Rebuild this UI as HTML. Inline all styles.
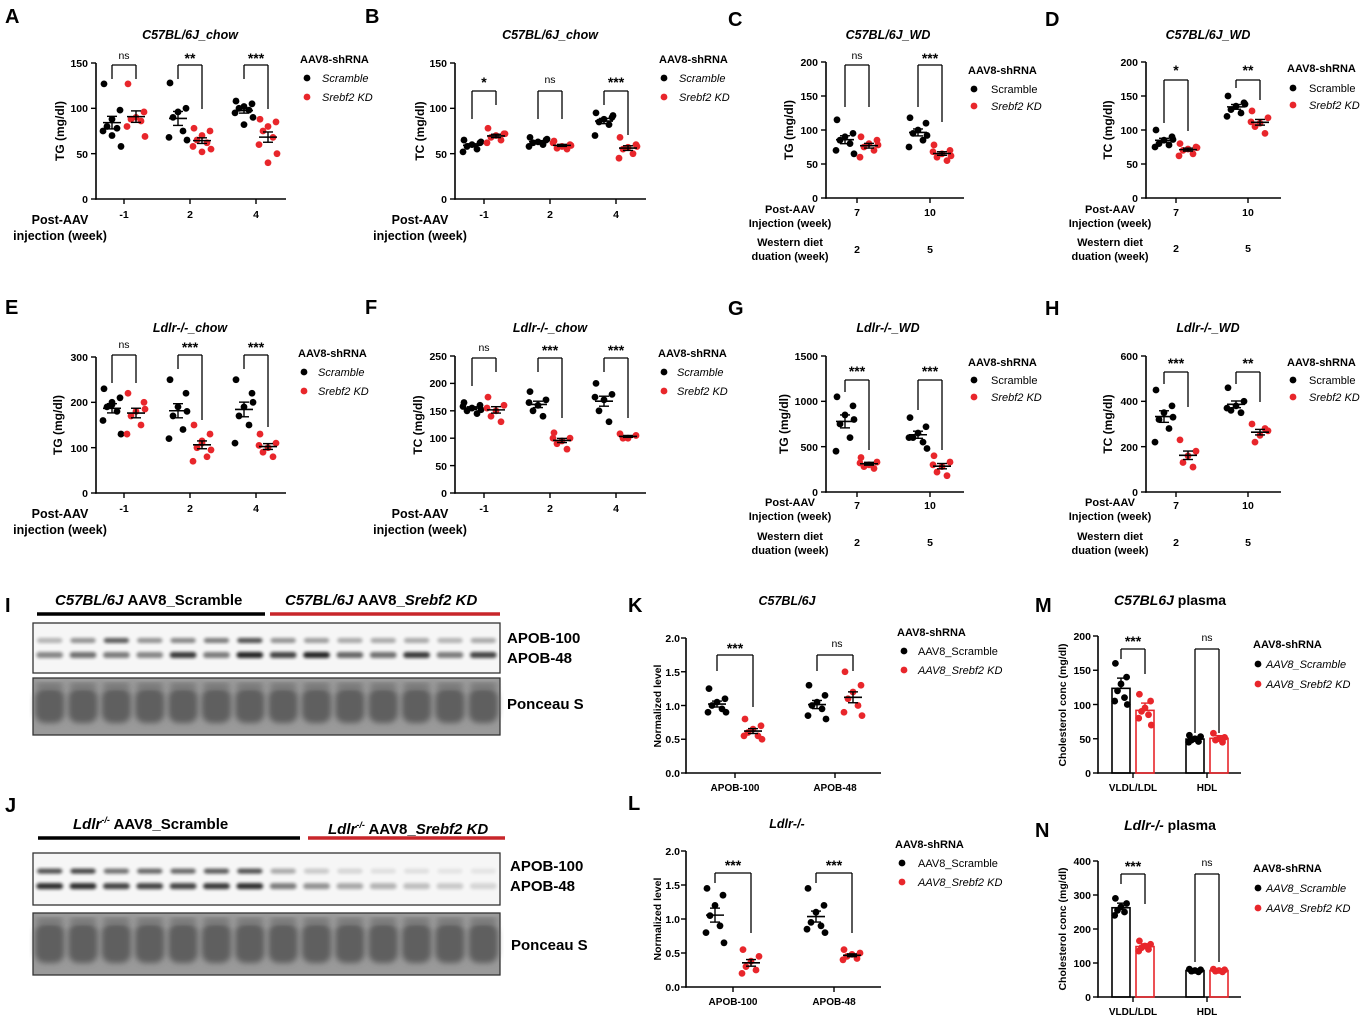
<!DOCTYPE html>
<html><head><meta charset="utf-8"><style>
body{margin:0;background:#fff}
svg{display:block;font-family:"Liberation Sans",Arial,sans-serif}
.L{font-size:20px;font-weight:bold}
.t{font-size:12.5px;font-weight:bold;font-style:italic;text-anchor:middle}
.yl{font-size:12px;font-weight:bold;text-anchor:middle}
.tk{font-size:10.5px;font-weight:bold;text-anchor:end}
.xk{font-size:10.5px;font-weight:bold;text-anchor:middle}
.lg{font-size:11px;font-weight:bold}
.li{font-size:11px;font-style:italic}
.ln{font-size:11px}
.s{font-size:14px;font-weight:bold;text-anchor:middle}
.ns{font-size:10.5px;text-anchor:middle}
.xb{font-size:12.5px;font-weight:bold;text-anchor:middle}
.xs{font-size:11px;font-weight:bold;text-anchor:middle}
.bl{font-size:15px;font-weight:bold}
</style></head><body>
<svg id="s" width="1367" height="1023" viewBox="0 0 1367 1023" xmlns="http://www.w3.org/2000/svg">
<defs>
<filter id="bl" x="-20%" y="-50%" width="140%" height="200%"><feGaussianBlur stdDeviation="1.6"/></filter>
<filter id="bl2" x="-20%" y="-20%" width="140%" height="140%"><feGaussianBlur stdDeviation="3"/></filter>
</defs>
<g id="shapes"></g>
<text class="L" x="5" y="23">A</text><text class="L" x="365" y="23">B</text><text class="L" x="728" y="26">C</text><text class="L" x="1045" y="26">D</text>
<text class="L" x="5" y="314">E</text><text class="L" x="365" y="314">F</text><text class="L" x="728" y="315">G</text><text class="L" x="1045" y="315">H</text>
<text class="L" x="5" y="612">I</text><text class="L" x="5" y="812">J</text><text class="L" x="628" y="612">K</text><text class="L" x="628" y="810">L</text>
<text class="L" x="1035" y="612">M</text><text class="L" x="1035" y="837">N</text>
<text class="t" x="190" y="39">C57BL/6J_chow</text><text class="t" x="550" y="39">C57BL/6J_chow</text>
<text class="t" x="888" y="39">C57BL/6J_WD</text><text class="t" x="1208" y="39">C57BL/6J_WD</text>
<text class="t" x="190" y="332">Ldlr-/-_chow</text><text class="t" x="550" y="332">Ldlr-/-_chow</text>
<text class="t" x="888" y="332">Ldlr-/-_WD</text><text class="t" x="1208" y="332">Ldlr-/-_WD</text>
<text class="t" x="787" y="605">C57BL/6J</text><text class="t" x="787" y="828">Ldlr-/-</text>
<text class="t" x="1170" y="605" style="font-size:14px">C57BL6J <tspan style="font-style:normal">plasma</tspan></text>
<text class="t" x="1170" y="830" style="font-size:14px">Ldlr-/- <tspan style="font-style:normal">plasma</tspan></text>
<text class="yl" transform="translate(64,131) rotate(-90)">TG (mg/dl)</text>
<text class="yl" transform="translate(424,131) rotate(-90)">TC (mg/dl)</text>
<text class="yl" transform="translate(793,130) rotate(-90)">TG (mg/dl)</text>
<text class="yl" transform="translate(1112,130) rotate(-90)">TC (mg/dl)</text>
<text class="yl" transform="translate(62,425) rotate(-90)">TG (mg/dl)</text>
<text class="yl" transform="translate(422,425) rotate(-90)">TC (mg/dl)</text>
<text class="yl" transform="translate(788,424) rotate(-90)">TG (mg/dl)</text>
<text class="yl" transform="translate(1112,424) rotate(-90)">TC (mg/dl)</text>
<text class="yl" style="font-size:10.5px" transform="translate(661,706) rotate(-90)">Normalized level</text>
<text class="yl" style="font-size:10.5px" transform="translate(661,919) rotate(-90)">Normalized level</text>
<text class="yl" style="font-size:10.5px" transform="translate(1066,705) rotate(-90)">Cholesterol conc (mg/dl)</text>
<text class="yl" style="font-size:10.5px" transform="translate(1066,929) rotate(-90)">Cholesterol conc (mg/dl)</text>
<g class="tk">
<text x="88" y="67">150</text><text x="88" y="112">100</text><text x="88" y="158">50</text><text x="88" y="203">0</text>
<text x="447" y="67">150</text><text x="447" y="112">100</text><text x="447" y="158">50</text><text x="447" y="203">0</text>
<text x="818" y="66">200</text><text x="818" y="100">150</text><text x="818" y="134">100</text><text x="818" y="168">50</text><text x="818" y="202">0</text>
<text x="1138" y="66">200</text><text x="1138" y="100">150</text><text x="1138" y="134">100</text><text x="1138" y="168">50</text><text x="1138" y="202">0</text>
<text x="88" y="361">300</text><text x="88" y="406">200</text><text x="88" y="452">100</text><text x="88" y="497">0</text>
<text x="447" y="360">250</text><text x="447" y="387">200</text><text x="447" y="415">150</text><text x="447" y="442">100</text><text x="447" y="470">50</text><text x="447" y="497">0</text>
<text x="818" y="360">1500</text><text x="818" y="405">1000</text><text x="818" y="451">500</text><text x="818" y="496">0</text>
<text x="1138" y="360">600</text><text x="1138" y="405">400</text><text x="1138" y="451">200</text><text x="1138" y="496">0</text>
<text x="680" y="642">2.0</text><text x="680" y="676">1.5</text><text x="680" y="710">1.0</text><text x="680" y="743">0.5</text><text x="680" y="777">0.0</text>
<text x="680" y="855">2.0</text><text x="680" y="889">1.5</text><text x="680" y="923">1.0</text><text x="680" y="957">0.5</text><text x="680" y="991">0.0</text>
<text x="1091" y="640">200</text><text x="1091" y="674">150</text><text x="1091" y="709">100</text><text x="1091" y="743">50</text><text x="1091" y="777">0</text>
<text x="1091" y="865">400</text><text x="1091" y="899">300</text><text x="1091" y="933">200</text><text x="1091" y="967">100</text><text x="1091" y="1001">0</text>
</g>
<g class="xk">
<text x="124" y="218">-1</text><text x="190" y="218">2</text><text x="256" y="218">4</text>
<text x="484" y="218">-1</text><text x="550" y="218">2</text><text x="616" y="218">4</text>
<text x="857" y="216">7</text><text x="930" y="216">10</text><text x="857" y="253">2</text><text x="930" y="253">5</text>
<text x="1176" y="216">7</text><text x="1248" y="216">10</text><text x="1176" y="252">2</text><text x="1248" y="252">5</text>
<text x="124" y="512">-1</text><text x="190" y="512">2</text><text x="256" y="512">4</text>
<text x="484" y="512">-1</text><text x="550" y="512">2</text><text x="616" y="512">4</text>
<text x="857" y="509">7</text><text x="930" y="509">10</text><text x="857" y="546">2</text><text x="930" y="546">5</text>
<text x="1176" y="509">7</text><text x="1248" y="509">10</text><text x="1176" y="546">2</text><text x="1248" y="546">5</text>
<text x="735" y="791" style="font-size:10px">APOB-100</text><text x="835" y="791" style="font-size:10px">APOB-48</text>
<text x="733" y="1005" style="font-size:10px">APOB-100</text><text x="834" y="1005" style="font-size:10px">APOB-48</text>
<text x="1133" y="791" style="font-size:10px">VLDL/LDL</text><text x="1207" y="791" style="font-size:10px">HDL</text>
<text x="1133" y="1015" style="font-size:10px">VLDL/LDL</text><text x="1207" y="1015" style="font-size:10px">HDL</text>
</g>
<g class="xb">
<text x="60" y="224">Post-AAV</text><text x="60" y="240">injection (week)</text>
<text x="420" y="224">Post-AAV</text><text x="420" y="240">injection (week)</text>
<text x="60" y="518">Post-AAV</text><text x="60" y="534">injection (week)</text>
<text x="420" y="518">Post-AAV</text><text x="420" y="534">injection (week)</text>
</g>
<g class="xs">
<text x="790" y="213">Post-AAV</text><text x="790" y="227">Injection (week)</text><text x="790" y="246">Western diet</text><text x="790" y="260">duation (week)</text>
<text x="1110" y="213">Post-AAV</text><text x="1110" y="227">Injection (week)</text><text x="1110" y="246">Western diet</text><text x="1110" y="260">duation (week)</text>
<text x="790" y="506">Post-AAV</text><text x="790" y="520">Injection (week)</text><text x="790" y="540">Western diet</text><text x="790" y="554">duation (week)</text>
<text x="1110" y="506">Post-AAV</text><text x="1110" y="520">Injection (week)</text><text x="1110" y="540">Western diet</text><text x="1110" y="554">duation (week)</text>
</g>
<g>
<text class="lg" x="300" y="63">AAV8-shRNA</text><text class="li" x="322" y="82">Scramble</text><text class="li" x="322" y="101">Srebf2 KD</text>
<text class="lg" x="659" y="63">AAV8-shRNA</text><text class="li" x="679" y="82">Scramble</text><text class="li" x="679" y="101">Srebf2 KD</text>
<text class="lg" x="968" y="74">AAV8-shRNA</text><text class="ln" x="991" y="93">Scramble</text><text class="li" x="991" y="110">Srebf2 KD</text>
<text class="lg" x="1287" y="72">AAV8-shRNA</text><text class="ln" x="1309" y="92">Scramble</text><text class="li" x="1309" y="109">Srebf2 KD</text>
<text class="lg" x="298" y="357">AAV8-shRNA</text><text class="li" x="318" y="376">Scramble</text><text class="li" x="318" y="395">Srebf2 KD</text>
<text class="lg" x="658" y="357">AAV8-shRNA</text><text class="li" x="677" y="376">Scramble</text><text class="li" x="677" y="395">Srebf2 KD</text>
<text class="lg" x="968" y="366">AAV8-shRNA</text><text class="ln" x="991" y="384">Scramble</text><text class="li" x="991" y="401">Srebf2 KD</text>
<text class="lg" x="1287" y="366">AAV8-shRNA</text><text class="ln" x="1309" y="384">Scramble</text><text class="li" x="1309" y="401">Srebf2 KD</text>
<text class="lg" x="897" y="636">AAV8-shRNA</text><text class="ln" x="918" y="655">AAV8_Scramble</text><text class="li" x="918" y="674">AAV8_Srebf2 KD</text>
<text class="lg" x="895" y="848">AAV8-shRNA</text><text class="ln" x="918" y="867">AAV8_Scramble</text><text class="li" x="918" y="886">AAV8_Srebf2 KD</text>
<text class="lg" x="1253" y="648">AAV8-shRNA</text><text class="li" x="1266" y="668">AAV8_Scramble</text><text class="li" x="1266" y="688">AAV8_Srebf2 KD</text>
<text class="lg" x="1253" y="872">AAV8-shRNA</text><text class="li" x="1266" y="892">AAV8_Scramble</text><text class="li" x="1266" y="912">AAV8_Srebf2 KD</text>
</g>
<g>
<text class="ns" x="124" y="59">ns</text><text class="s" x="190" y="63">**</text><text class="s" x="256" y="63">***</text>
<text class="s" x="484" y="87">*</text><text class="ns" x="550" y="83">ns</text><text class="s" x="616" y="87">***</text>
<text class="ns" x="857" y="59">ns</text><text class="s" x="930" y="63">***</text>
<text class="s" x="1176" y="75">*</text><text class="s" x="1248" y="75">**</text>
<text class="ns" x="124" y="348">ns</text><text class="s" x="190" y="352">***</text><text class="s" x="256" y="352">***</text>
<text class="ns" x="484" y="351">ns</text><text class="s" x="550" y="355">***</text><text class="s" x="616" y="355">***</text>
<text class="s" x="857" y="376">***</text><text class="s" x="930" y="376">***</text>
<text class="s" x="1176" y="368">***</text><text class="s" x="1248" y="368">**</text>
<text class="s" x="735" y="653">***</text><text class="ns" x="837" y="647">ns</text>
<text class="s" x="733" y="870">***</text><text class="s" x="834" y="870">***</text>
<text class="s" x="1133" y="646">***</text><text class="ns" x="1207" y="641">ns</text>
<text class="s" x="1133" y="871">***</text><text class="ns" x="1207" y="866">ns</text>
</g>
<text class="bl" x="55" y="605" style="font-style:italic">C57BL/6J <tspan style="font-style:normal">AAV8_Scramble</tspan></text>
<text class="bl" x="285" y="605" style="font-style:italic">C57BL/6J <tspan style="font-style:normal">AAV8_</tspan>Srebf2 KD</text>
<text class="bl" x="507" y="643">APOB-100</text><text class="bl" x="507" y="663">APOB-48</text><text class="bl" x="507" y="709">Ponceau S</text>
<text class="bl" x="73" y="829" style="font-style:italic">Ldlr<tspan style="font-size:9px" dy="-6">-/-</tspan><tspan dy="6" style="font-style:normal"> AAV8_Scramble</tspan></text>
<text class="bl" x="328" y="834" style="font-style:italic">Ldlr<tspan style="font-size:9px" dy="-6">-/-</tspan><tspan dy="6" style="font-style:normal"> AAV8_</tspan>Srebf2 KD</text>
<text class="bl" x="510" y="871">APOB-100</text><text class="bl" x="510" y="891">APOB-48</text><text class="bl" x="511" y="950">Ponceau S</text>
</svg>
<script>
const NS="http://www.w3.org/2000/svg",G=document.getElementById("shapes");
function el(t,a){const e=document.createElementNS(NS,t);for(const k in a)e.setAttribute(k,a[k]);G.appendChild(e);return e;}
function line(x1,y1,x2,y2,c,w){el("line",{x1,y1,x2,y2,stroke:c||"#000","stroke-width":w||1.5});}
function dot(x,y,c){el("circle",{cx:x,cy:y,r:3.4,fill:c});}
function axes(P){const {ax,yT,yB,xR,n}=P;line(ax,yT,ax,yB+0.7,"#000",1.6);line(ax-0.7,yB,xR,yB,"#000",1.6);
 for(let i=0;i<=n;i++){const y=yT+(yB-yT)*i/n;line(ax-5,y,ax,y,"#000",1.4);}
 (P.xt||[]).forEach(x=>line(x,yB,x,yB+5,"#000",1.4));}
function scat(P){axes(P);const sc=v=>P.yB-(P.yB-P.yT)*v/P.max;
 P.g.forEach(g=>{const xb=g.x-P.d,xr=g.x+P.d;
  [[g.b,xb,"#000"],[g.r,xr,"#e8262b"]].forEach(([vals,x,c])=>{
   const m=vals.reduce((a,b)=>a+b,0)/vals.length;
   const sd=Math.sqrt(vals.reduce((a,b)=>a+(b-m)*(b-m),0)/vals.length)/Math.sqrt(vals.length);
   const offs=[-8,8,0,-5,5,-9,9,0];
   vals.forEach((v,i)=>{dot(x+(P.bar?offs[i]*0.7:offs[i]),sc(v),c);});
   if(P.bar){el("rect",{x:x-9,y:sc(m),width:18,height:P.yB-sc(m),fill:"none",stroke:c,"stroke-width":1.6});
     line(x,sc(m+sd*2),x,sc(m),c,1.4);line(x-4,sc(m+sd*2),x+4,sc(m+sd*2),c,1.4);}
   else{line(x-9,sc(m),x+9,sc(m),"#000",1.6);line(x,sc(m-sd),x,sc(m+sd),"#000",1.4);line(x-5,sc(m-sd),x+5,sc(m-sd),"#000",1.4);line(x-5,sc(m+sd),x+5,sc(m+sd),"#000",1.4);}
  });
  const by=g.by;line(xb,by,xr,by,"#000",1.3);line(xb,by,xb,by+g.lb,"#000",1.3);line(xr,by,xr,by+g.lr,"#000",1.3);
 });
 if(P.lx){dot(P.lx,P.ly,"#000");dot(P.lx,P.ly+P.ls,"#e8262b");}
}
scat({ax:96,yT:63,yB:199,xR:286,n:3,max:150,d:12,xt:[124,190,256],lx:307,ly:78,ls:19,g:[
 {x:124,b:[127,98,88,80,78,75,58,70],r:[127,96,90,88,86,80,69],by:65,lb:14,lr:14},
 {x:190,b:[128,100,96,90,75,68,65],r:[78,75,70,65,62,58,55,52],by:65,lb:14,lr:44},
 {x:256,b:[108,105,102,100,98,95,90,82],r:[88,85,80,75,68,60,50,40],by:65,lb:14,lr:44}]});
scat({ax:455,yT:63,yB:199,xR:646,n:3,max:150,d:12,xt:[484,550,616],lx:664,ly:78,ls:19,g:[
 {x:484,b:[65,62,60,58,55,52,63],r:[78,72,70,68,65,62,72],by:91,lb:28,lr:14},
 {x:550,b:[68,65,63,62,60,58,66],r:[64,60,58,56,55,62,59],by:91,lb:28,lr:28},
 {x:616,b:[95,90,88,85,82,70,92],r:[68,60,57,55,50,45,58],by:91,lb:14,lr:44}]});
scat({ax:826,yT:62,yB:198,xR:964,n:4,max:200,d:12,xt:[857,930],lx:974,ly:89,ls:17,g:[
 {x:857,b:[115,95,90,85,80,70,65],r:[90,85,80,75,70,60,78],by:65,lb:42,lr:42},
 {x:930,b:[118,110,100,95,85,75,92],r:[78,70,65,60,55,68,62],by:65,lb:42,lr:57}]});
scat({ax:1146,yT:62,yB:198,xR:1281,n:4,max:200,d:12,xt:[1176,1248],lx:1293,ly:88,ls:17,g:[
 {x:1176,b:[100,90,85,80,78,75,86],r:[80,75,72,70,65,62,74],by:80,lb:43,lr:51},
 {x:1248,b:[150,140,135,130,125,120,138],r:[128,118,110,105,95,112],by:80,lb:8,lr:20}]});
scat({ax:96,yT:357,yB:493,xR:286,n:3,max:300,d:12,xt:[124,190,256],lx:304,ly:372,ls:19,g:[
 {x:124,b:[230,210,200,190,180,160,130,195],r:[220,200,180,170,150,130,185],by:355,lb:28,lr:28},
 {x:190,b:[250,220,190,170,140,120,180],r:[150,130,110,100,80,70,95,115],by:355,lb:14,lr:65},
 {x:256,b:[250,220,190,170,150,110,200],r:[130,110,100,90,80,105],by:355,lb:14,lr:72}]});
scat({ax:455,yT:356,yB:493,xR:646,n:5,max:250,d:12,xt:[484,550,616],lx:664,ly:372,ls:19,g:[
 {x:484,b:[165,160,155,150,145,158,152],r:[175,160,150,140,130,155],by:358,lb:28,lr:14},
 {x:550,b:[185,170,160,150,140,165],r:[110,100,95,90,80,100],by:358,lb:14,lr:60},
 {x:616,b:[200,180,170,150,130,175],r:[108,105,100,100],by:358,lb:14,lr:60}]});
scat({ax:826,yT:356,yB:492,xR:964,n:3,max:1500,d:12,xt:[857,930],lx:974,ly:380,ls:17,g:[
 {x:857,b:[1050,950,850,750,600,450,800],r:[380,330,300,280,260,320],by:380,lb:12,lr:70},
 {x:930,b:[820,720,650,600,550,600,480],r:[400,330,280,220,180,300],by:380,lb:30,lr:70}]});
scat({ax:1146,yT:356,yB:492,xR:1281,n:3,max:600,d:12,xt:[1176,1248],lx:1293,ly:380,ls:17,g:[
 {x:1176,b:[450,380,350,320,280,220,330],r:[230,180,160,130,110],by:372,lb:12,lr:35},
 {x:1248,b:[460,400,380,360,350,370],r:[300,270,250,220,280],by:372,lb:12,lr:30}]});
scat({ax:686,yT:638,yB:773,xR:881,n:4,max:2,d:18,xt:[735,835],lx:904,ly:651,ls:19,g:[
 {x:735,b:[1.25,1.1,1.05,1.0,0.95,0.9,0.9],r:[0.8,0.7,0.65,0.6,0.55,0.55,0.5],by:655,lb:16,lr:52},
 {x:835,b:[1.3,1.15,1.05,1.0,0.95,0.85,0.8],r:[1.5,1.3,1.2,1.1,1.0,0.9,0.85],by:655,lb:16,lr:16}]});
scat({ax:686,yT:851,yB:987,xR:881,n:4,max:2,d:18,xt:[733,834],lx:902,ly:863,ls:19,g:[
 {x:733,b:[1.45,1.35,1.2,1.05,0.9,0.8,0.65],r:[0.55,0.45,0.38,0.3,0.25,0.2],by:873,lb:10,lr:60},
 {x:834,b:[1.45,1.2,1.1,0.95,0.9,0.85,0.8],r:[0.55,0.5,0.48,0.45,0.42,0.4],by:873,lb:10,lr:60}]});
scat({ax:1098,yT:636,yB:773,xR:1241,n:4,max:200,d:12,bar:1,xt:[1133,1207],lx:1258,ly:664,ls:20,g:[
 {x:1133,b:[160,140,130,120,110,105,100],r:[115,105,95,90,85,80,70],by:649,lb:10,lr:25},
 {x:1207,b:[55,53,50,48,46,45],r:[58,52,50,48,45],by:649,lb:84,lr:84}]});
scat({ax:1098,yT:861,yB:997,xR:1241,n:4,max:400,d:12,bar:1,xt:[1133,1207],lx:1258,ly:888,ls:20,g:[
 {x:1133,b:[290,275,265,255,250,240],r:[165,155,150,145,140,135],by:874,lb:10,lr:30},
 {x:1207,b:[82,80,78,76,74],r:[82,80,78,76,74],by:874,lb:88,lr:88}]});
function blot(x0,x1,y0,y1,y2,y3,lanes,i1,i2){
 el("rect",{x:x0,y:y0,width:x1-x0,height:y1-y0,fill:"#f6f6f6",stroke:"#333","stroke-width":1.3});
 el("rect",{x:x0,y:y2,width:x1-x0,height:y3-y2,fill:"#9a9a9a",stroke:"#333","stroke-width":1.3});
 const w=(x1-x0)/lanes;
 for(let i=0;i<lanes;i++){const cx=x0+w*(i+0.5);
  el("rect",{x:cx-w*0.38,y:y0+(y1-y0)*0.3,width:w*0.76,height:5,rx:3,fill:"#000",opacity:i1[i]*0.9,filter:"url(#bl)"});
  el("rect",{x:cx-w*0.4,y:y0+(y1-y0)*0.58,width:w*0.8,height:6,rx:3,fill:"#000",opacity:i2[i]*0.9,filter:"url(#bl)"});
  el("rect",{x:cx-w*0.44,y:y2+10,width:w*0.88,height:y3-y2-22,rx:10,fill:"#5e5e5e",filter:"url(#bl2)"});
  el("rect",{x:cx-w*0.4,y:y2+5,width:w*0.8,height:6,rx:3,fill:"#777",filter:"url(#bl2)"});
 }}
line(37,614,265,614,"#000",3.5);line(270,614,500,614,"#c8262b",3.5);
blot(33,500,623,673,678,735,14,[.3,.45,.7,.45,.5,.55,.75,.45,.4,.35,.35,.35,.3,.35],[.5,.6,.55,.5,.85,.55,.95,.8,.95,.65,.6,.85,.55,.8]);
line(38,838,300,838,"#000",3.5);line(308,838,505,838,"#c8262b",3.5);
blot(33,500,853,905,913,975,14,[.75,.8,.6,.65,.65,.7,.75,.35,.2,.15,.1,.1,.08,.08],[.9,.9,.8,.8,.8,.85,.9,.55,.45,.35,.3,.25,.2,.15]);
</script>
</body></html>
